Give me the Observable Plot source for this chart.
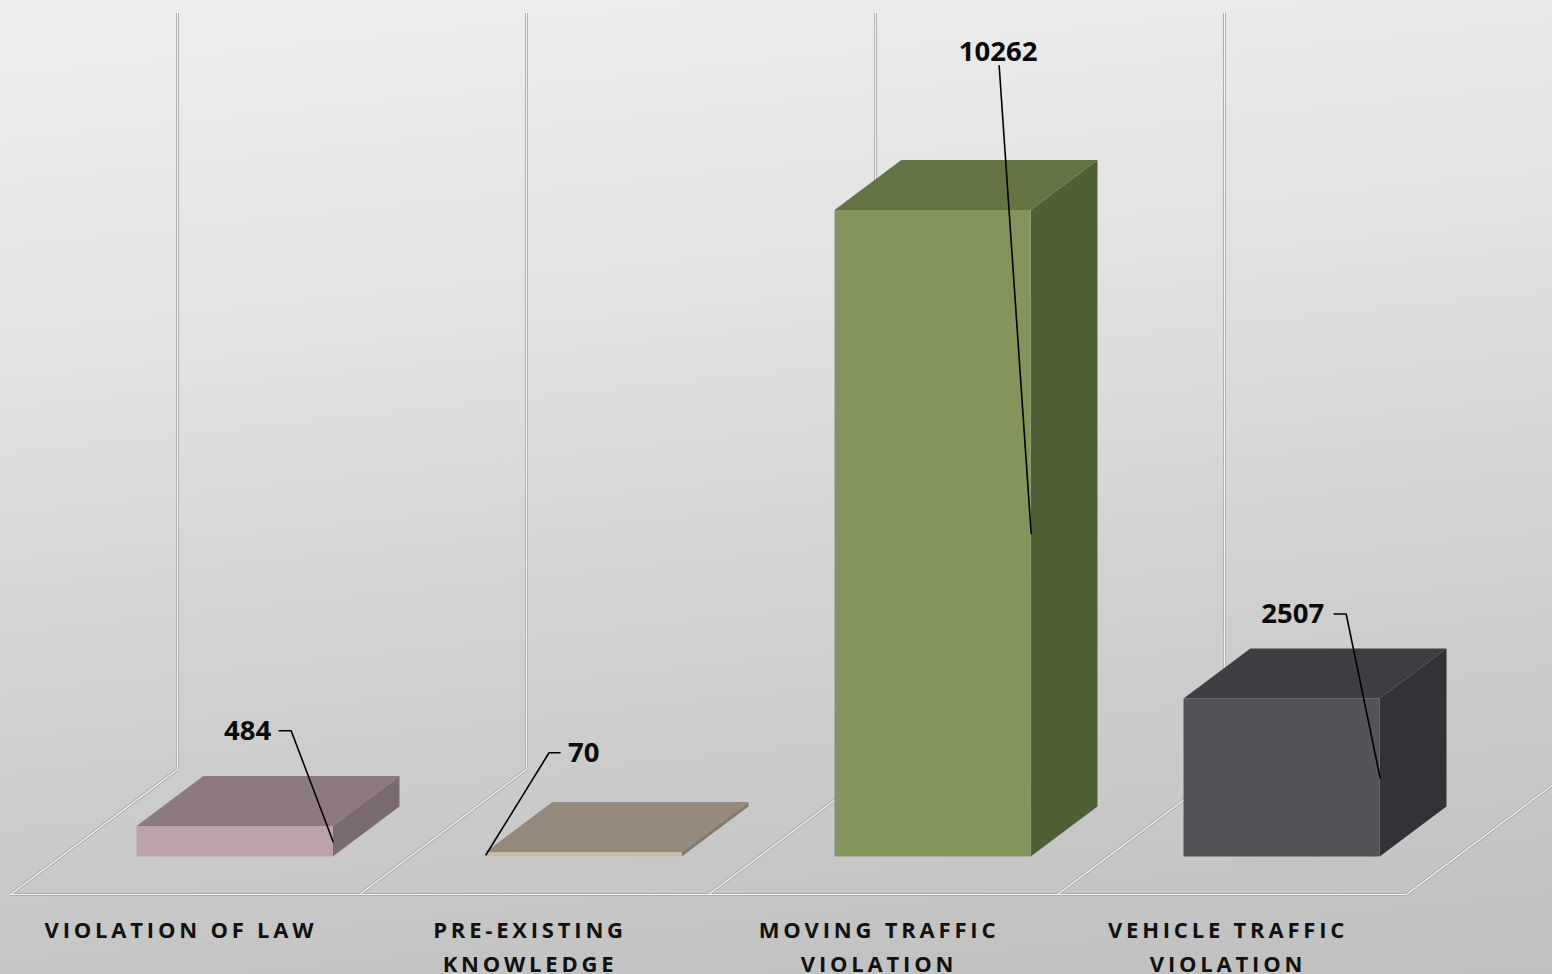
<!DOCTYPE html>
<html>
<head>
<meta charset="utf-8">
<script src="https://cdn.jsdelivr.net/npm/d3@7"></script>
<script src="https://cdn.jsdelivr.net/npm/@observablehq/plot@0.6"></script>
<style>
  html, body { margin: 0; padding: 0; }
  body {
    width: 1552px; height: 974px; overflow: hidden;
    background: linear-gradient(174deg, #efefef 0%, #e3e3e3 30%, #cfcfcf 65%, #bfbfbf 100%);
  }
</style>
</head>
<body>
<div id="chart"></div>
<script>
// ---------- data ----------
const categories = ["VIOLATION OF LAW", "PRE-EXISTING KNOWLEDGE", "MOVING TRAFFIC VIOLATION", "VEHICLE TRAFFIC VIOLATION"];
const categoryLines = [["VIOLATION OF LAW"], ["PRE-EXISTING", "KNOWLEDGE"], ["MOVING TRAFFIC", "VIOLATION"], ["VEHICLE TRAFFIC", "VIOLATION"]];
const values = [484, 70, 10262, 2507];
const yDomainMax = 12000;

// ---------- style ----------
const frontColors = ["#b9a3a9", "#cbbba2", "#84955c", "#545358"];
const topColors   = ["#8c7a7f", "#958a7b", "#647344", "#3e3d42"];
const sideColors  = ["#7b6a6f", "#857a6c", "#4f6037", "#333237"];
// label placement relative to the leader-line anchor (pixels): elbow, tail, text
const labelStyle = [
  {side: "right", elbow: [-42, -111], tail: [-54, -111], text: [-62, -111], anchor: "end"},
  {side: "left",  elbow: [63, -102],  tail: [74, -102],  text: [82, -102],  anchor: "start"},
  {side: "right", elbow: [-32, -468], tail: [-32, -468], text: [-33, -482], anchor: "middle"},
  {side: "right", elbow: [-34, -164], tail: [-46, -164], text: [-56, -164], anchor: "end"}
];

// ---------- geometry (screen layout of the 3D box) ----------
const W = 1552, H = 974;
const X_LEFT = 10, X_RIGHT = 1406;   // front floor edge
const Y_BASE = 894, Y_TOP = 138;     // front plane 0 .. yDomainMax
const FLOOR_DX = 167, FLOOR_DY = 125; // depth of the floor in px
const BAR_Z0 = 0.3, BAR_Z1 = 0.7;    // bar depth as fraction of floor depth
const BAR_W = 0.562;                  // bar width in category units
const n = categories.length;
const kx = n / (X_RIGHT - X_LEFT);              // category units per px
const ky = yDomainMax / (Y_BASE - Y_TOP);        // value units per px

const frontDx = BAR_Z0 * FLOOR_DX, frontDy = -BAR_Z0 * FLOOR_DY;
const barDc = (BAR_Z1 - BAR_Z0) * FLOOR_DX * kx;  // depth of bar in category units
const barDv = (BAR_Z1 - BAR_Z0) * FLOOR_DY * ky;  // depth of bar in value units

const bars = categories.map((c, i) => ({
  i, c, v: values[i],
  xl: i + 0.5 - BAR_W / 2, xr: i + 0.5 + BAR_W / 2,
  front: frontColors[i], top: topColors[i], side: sideColors[i]
}));

// top faces and side faces as polygons
const topPts = bars.flatMap(b => [
  {i: b.i, y: b.v, x1: b.xl, x2: b.xr, fill: b.top},
  {i: b.i, y: b.v + barDv, x1: b.xl + barDc, x2: b.xr + barDc, fill: b.top}
]);
const sidePts = bars.flatMap(b => [
  {i: b.i, x: b.xr, y1: 0, y2: b.v, fill: b.side},
  {i: b.i, x: b.xr + barDc, y1: barDv, y2: b.v + barDv, fill: b.side}
]);

// leader lines (anchor at the front face edge, mid height)
const leaderPts = [];
const labelPts = [];
bars.forEach((b, k) => {
  const s = labelStyle[k];
  const ax = (s.side === "right" ? b.xr : b.xl) + frontDx * kx;
  const ay = b.v / 2 - frontDy * ky;
  const P = ([dx, dy]) => ({x: ax + dx * kx, y: ay - dy * ky});
  leaderPts.push({i: k, x: ax, y: ay}, {i: k, ...P(s.elbow)}, {i: k, ...P(s.tail)});
  labelPts.push({...P(s.text), text: String(b.v), anchor: s.anchor});
});

const idx = d3.range(n + 1);

const marks = [];
// floor lines: shadow then highlight
for (const [stroke, sw] of [["#a9a9a9", 3], ["#f6f6f6", 1.2]]) {
  marks.push(
    Plot.ruleY([0], {x1: 0, x2: n, stroke, strokeWidth: sw}),
    Plot.link(idx, {x1: d => d, y1: 0, x2: d => d + FLOOR_DX * kx, y2: FLOOR_DY * ky, stroke, strokeWidth: sw}),
    Plot.ruleX(idx, {x: d => d, y1: 0, y2: yDomainMax, dx: FLOOR_DX, dy: -FLOOR_DY, stroke, strokeWidth: sw})
  );
}
// bars
marks.push(
  Plot.areaY(sidePts, {x: "x", y1: "y1", y2: "y2", z: "i", fill: "fill", dx: frontDx, dy: frontDy}),
  Plot.areaX(topPts, {y: "y", x1: "x1", x2: "x2", z: "i", fill: "fill", dx: frontDx, dy: frontDy}),
  Plot.rect(bars, {x1: "xl", x2: "xr", y1: 0, y2: "v", fill: "front", dx: frontDx, dy: frontDy})
);
// leaders
marks.push(Plot.line(leaderPts, {x: "x", y: "y", z: "i", stroke: "#000", strokeWidth: 1.6}));
// value labels
for (const a of ["start", "middle", "end"]) {
  marks.push(Plot.text(labelPts.filter(d => d.anchor === a), {
    x: "x", y: "y", text: "text", textAnchor: a, fill: "#0a0a0a",
    fontSize: 27.5, fontWeight: "bold", fontFamily: "Open Sans, sans-serif"
  }));
}
// category labels
marks.push(Plot.text(bars, {
  x: d => d.i + 0.5, y: 0, text: d => categoryLines[d.i].join("\n"),
  lineAnchor: "top", lineHeight: 1.55, dy: 19, dx: -4,
  fontSize: 22, fontWeight: "bold", fontFamily: "Open Sans, sans-serif",
  fill: "#111"
}));

const chart = Plot.plot({
  width: W, height: H,
  marginTop: 0, marginRight: 0, marginBottom: 0, marginLeft: 0,
  x: {type: "linear", domain: [0, n], range: [X_LEFT, X_RIGHT], axis: null},
  y: {type: "linear", domain: [0, yDomainMax], range: [Y_BASE, Y_TOP], axis: null},
  color: {type: "identity"},
  style: {background: "transparent", overflow: "hidden"},
  marks
});
// letter-spaced category labels
const firstLines = new Set(categoryLines.map(l => l[0]));
d3.select(chart).selectAll("text").each(function () {
  const t = this.firstChild && this.firstChild.textContent;
  if (firstLines.has(t) || firstLines.has(this.textContent)) {
    this.style.letterSpacing = "3.8px";
  }
});
document.getElementById("chart").appendChild(chart);
</script>
</body>
</html>
